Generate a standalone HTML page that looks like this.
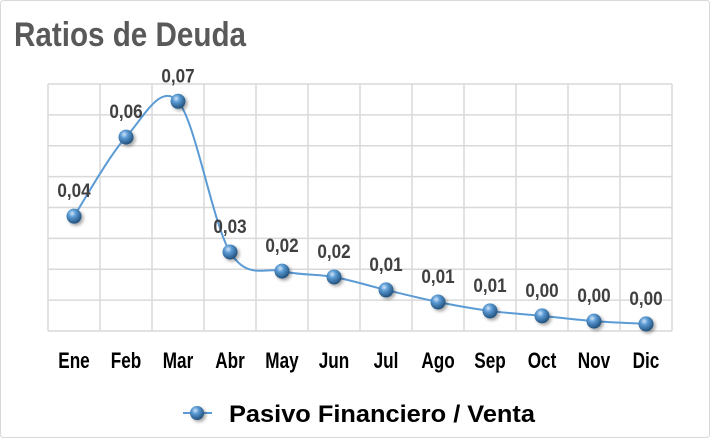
<!DOCTYPE html>
<html><head><meta charset="utf-8"><style>
html,body{margin:0;padding:0;background:#fff}
svg{display:block}
</style></head><body>
<svg width="710" height="438" viewBox="0 0 710 438" xmlns="http://www.w3.org/2000/svg">
<defs>
<radialGradient id="ball" cx="0.38" cy="0.32" r="0.7">
<stop offset="0" stop-color="#cfe4f7"/><stop offset="0.35" stop-color="#5b9bd5"/><stop offset="1" stop-color="#1f4e79"/>
</radialGradient>
<filter id="sh" x="-50%" y="-50%" width="200%" height="200%"><feDropShadow dx="2" dy="2" stdDeviation="1.5" flood-color="#000" flood-opacity="0.35"/></filter>
</defs>
<rect x="0.5" y="0.5" width="709" height="437" rx="3" fill="#fff" stroke="#d9d9d9"/>
<text x="14" y="46" font-family="'Liberation Sans Narrow','Liberation Sans',sans-serif" font-weight="bold" font-size="34" fill="#595959" textLength="232" lengthAdjust="spacingAndGlyphs">Ratios de Deuda</text>
<g id="grid"></g>
<g id="xlabels"></g>
<path id="line" fill="none" stroke="#5b9bd5" stroke-width="2"/>
<g id="pts"></g>
<g id="vals"></g>
<g>
<line x1="183" y1="413" x2="212" y2="413" stroke="#5b9bd5" stroke-width="2"/>
<circle cx="197" cy="413" r="7" fill="url(#ball)" filter="url(#sh)"/>
<text x="229" y="422" font-family="'Liberation Sans',sans-serif" font-weight="bold" font-size="24" fill="#000" textLength="306" lengthAdjust="spacingAndGlyphs">Pasivo Financiero / Venta</text>
</g>
</svg>
<script>
const categories=["Ene","Feb","Mar","Abr","May","Jun","Jul","Ago","Sep","Oct","Nov","Dic"];
const values=[0.0372,0.0628,0.0744,0.0256,0.0194,0.0175,0.0133,0.0094,0.0065,0.0049,0.0032,0.0023];
const valueLabels=["0,04","0,06","0,07","0,03","0,02","0,02","0,01","0,01","0,01","0,00","0,00","0,00"];
const yMax=0.08, yStep=0.01;
const L=48,R=672,T=84,B=331;
const bw=(R-L)/categories.length;
const xs=i=>L+bw*(i+0.5);
const ys=v=>B-(v/yMax)*(B-T);
const NS="http://www.w3.org/2000/svg";
function mk(tag,attrs,parent){const e=document.createElementNS(NS,tag);for(const k in attrs)e.setAttribute(k,attrs[k]);parent.appendChild(e);return e;}
function squeeze(t,f){const w=t.getComputedTextLength();t.setAttribute('textLength',w*f);t.setAttribute('lengthAdjust','spacingAndGlyphs');}
const grid=document.getElementById('grid');
for(let v=0;v<=yMax+1e-9;v+=yStep){const y=ys(v);const l=mk('line',{x1:L,x2:R,y1:y,y2:y,stroke:'#d9d9d9','stroke-width':1.5},grid);

}
for(let i=0;i<=categories.length;i++){const x=L+bw*i;const l=mk('line',{x1:x,x2:x,y1:T,y2:B,stroke:'#d9d9d9','stroke-width':1.5},grid);

}
const xl=document.getElementById('xlabels');
categories.forEach((c,i)=>{const t=mk('text',{x:xs(i),y:368,'text-anchor':'middle','font-family':"'Liberation Sans Narrow','Liberation Sans',sans-serif",'font-weight':'bold','font-size':22,fill:'#000'},xl);t.textContent=c;


squeeze(t,0.78);});
const P=values.map((v,i)=>[xs(i),ys(v)]);
let d=`M${P[0][0]},${P[0][1]}`;
for(let i=0;i<P.length-1;i++){const p0=P[i-1]||P[i],p1=P[i],p2=P[i+1],p3=P[i+2]||P[i+1];const k=1/6;
d+=` C${p1[0]+(p2[0]-p0[0])*k},${p1[1]+(p2[1]-p0[1])*k} ${p2[0]-(p3[0]-p1[0])*k},${p2[1]-(p3[1]-p1[1])*k} ${p2[0]},${p2[1]}`;}
document.getElementById('line').setAttribute('d',d);
const pts=document.getElementById('pts'),vals=document.getElementById('vals');
P.forEach((p,i)=>{const c=mk('circle',{cx:p[0],cy:p[1],r:7.5,fill:'url(#ball)',filter:'url(#sh)'},pts);


const t=mk('text',{x:p[0],y:p[1]-19,'text-anchor':'middle','font-family':"'Liberation Sans',sans-serif",'font-weight':'bold','font-size':19,fill:'#404040'},vals);t.textContent=valueLabels[i];


squeeze(t,0.9);});
</script>
</body></html>
